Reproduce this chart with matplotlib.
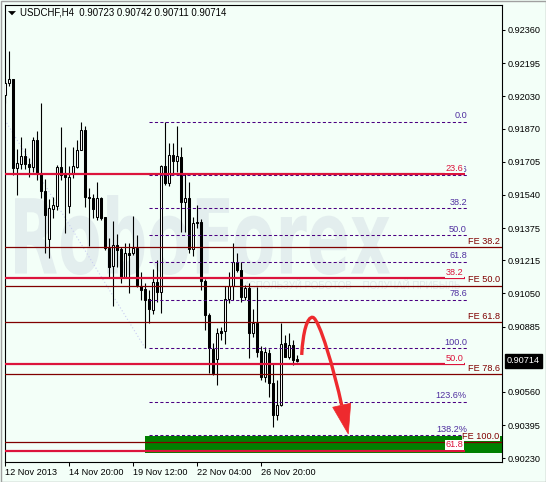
import matplotlib
matplotlib.use('Agg')
import matplotlib.pyplot as plt
import matplotlib.transforms as mtransforms
import numpy as np
from matplotlib.patches import Rectangle, PathPatch, Polygon
from matplotlib.path import Path
from matplotlib.textpath import TextPath
from matplotlib.font_manager import FontProperties

plt.rcParams['font.family'] = ['Liberation Sans', 'DejaVu Sans']

# ---------------- data (USDCHF H4 candles) ----------------
opens = [0.92037, 0.92095, 0.92115, 0.91672, 0.91694, 0.91733, 0.91694, 0.91677, 0.91813, 0.91647,
         0.91559, 0.91319, 0.91468, 0.91486, 0.91677, 0.91647, 0.91486, 0.91647, 0.91680, 0.91763,
         0.91863, 0.91531, 0.91523, 0.91429, 0.91523, 0.91429, 0.91274, 0.91188, 0.91291, 0.91269,
         0.91128, 0.91253, 0.91250, 0.91277, 0.91088, 0.91071, 0.91021, 0.90968, 0.91108, 0.91059,
         0.91684, 0.91601, 0.91738, 0.91710, 0.91730, 0.91506, 0.91523, 0.91269, 0.91407, 0.91405,
         0.91112, 0.90943, 0.90772, 0.90722, 0.90863, 0.90863, 0.91021, 0.91087, 0.91205, 0.91166,
         0.91031, 0.91075, 0.90852, 0.90901, 0.90765, 0.90633, 0.90755, 0.90606, 0.90445, 0.90495,
         0.90802, 0.90735, 0.90794, 0.90723]
highs = [0.92111, 0.92256, 0.92116, 0.91767, 0.91826, 0.91772, 0.91722, 0.91829, 0.91859, 0.91998,
         0.91618, 0.91518, 0.91531, 0.91689, 0.91876, 0.91777, 0.91684, 0.91777, 0.91813, 0.91904,
         0.91883, 0.91573, 0.91544, 0.91606, 0.91528, 0.91430, 0.91324, 0.91412, 0.91346, 0.91281,
         0.91302, 0.91302, 0.91435, 0.91341, 0.91158, 0.91100, 0.91067, 0.91170, 0.91216, 0.91689,
         0.91904, 0.91797, 0.91797, 0.91883, 0.91780, 0.91644, 0.91604, 0.91432, 0.91490, 0.91420,
         0.91122, 0.90953, 0.90802, 0.90877, 0.90885, 0.91087, 0.91158, 0.91299, 0.91250, 0.91206,
         0.91092, 0.91102, 0.90971, 0.91080, 0.90789, 0.90785, 0.90772, 0.90703, 0.90619, 0.90901,
         0.90843, 0.90852, 0.90818, 0.90742]
lows = [0.91997, 0.92082, 0.91639, 0.91538, 0.91667, 0.91667, 0.91627, 0.91655, 0.91614, 0.91523,
        0.91250, 0.91225, 0.91424, 0.91465, 0.91614, 0.91352, 0.91448, 0.91622, 0.91672, 0.91763,
        0.91481, 0.91287, 0.91424, 0.91415, 0.91415, 0.91266, 0.91125, 0.90987, 0.91183, 0.91100,
        0.91127, 0.91051, 0.91241, 0.91083, 0.91017, 0.90777, 0.90901, 0.90948, 0.91009, 0.90951,
        0.91589, 0.91584, 0.91639, 0.91655, 0.91357, 0.91357, 0.91250, 0.91236, 0.91375, 0.91067,
        0.90868, 0.90653, 0.90644, 0.90595, 0.90818, 0.90799, 0.91001, 0.91017, 0.91158, 0.91009,
        0.91017, 0.90727, 0.90835, 0.90735, 0.90619, 0.90611, 0.90536, 0.90387, 0.90421, 0.90490,
        0.90732, 0.90722, 0.90694, 0.90711]
closes = [0.92098, 0.92115, 0.91672, 0.91697, 0.91733, 0.91694, 0.91677, 0.91813, 0.91647, 0.91559,
          0.91440, 0.91473, 0.91488, 0.91677, 0.91639, 0.91627, 0.91630, 0.91684, 0.91763, 0.91863,
          0.91528, 0.91523, 0.91468, 0.91523, 0.91424, 0.91274, 0.91183, 0.91291, 0.91266, 0.91128,
          0.91253, 0.91241, 0.91277, 0.91092, 0.91067, 0.91017, 0.90971, 0.91108, 0.91059, 0.91684,
          0.91598, 0.91738, 0.91710, 0.91733, 0.91506, 0.91523, 0.91269, 0.91399, 0.91399, 0.91112,
          0.90943, 0.90777, 0.90653, 0.90852, 0.90855, 0.91021, 0.91087, 0.91205, 0.91166, 0.91031,
          0.91075, 0.90852, 0.90901, 0.90760, 0.90633, 0.90760, 0.90603, 0.90445, 0.90495, 0.90799,
          0.90735, 0.90794, 0.90719, 0.90714]

x_tick_pos = [0, 16, 32, 48, 64]
x_tick_labels = ['12 Nov 2013', '14 Nov 20:00', '19 Nov 12:00', '22 Nov 04:00', '26 Nov 20:00']
y_tick_vals = [0.92360, 0.92195, 0.92030, 0.91870, 0.91705, 0.91540, 0.91375, 0.91215,
               0.91050, 0.90885, 0.90560, 0.90395, 0.90230]

# Fibonacci retracement (dashed) between swing high and swing low
fib_high = 0.91904
fib_low = 0.90777
fib_ratios = [0.0, 23.6, 38.2, 50.0, 61.8, 78.6, 100.0, 123.6, 138.2]
fib_texts = ['0.0', '23.6', '38.2', '50.0', '61.8', '78.6', '100.0', '123.6%', '138.2%']
fib_x_start, fib_x_end = 36, 115.4

# Long-term retracement (red)
red_levels = [0.91644, 0.91125, 0.90698, 0.90268]
red_texts = ['23.6', '38.2', '50.0', '61.8']
red_x_end = 114.9

# Fibonacci expansion (dark red)
fe_levels = [0.91279, 0.91088, 0.90906, 0.90648, 0.90310]
fe_texts = ['FE 38.2', 'FE 50.0', 'FE 61.8', 'FE 78.6', 'FE 100.0']

# target zone
zone_x_start = 34.9
zone_low, zone_high = 0.90258, 0.90342

# FE trend line anchors
trend_x = [-0.1, 35]
trend_y = [0.91912, 0.90777]

# forecast arrow (bar index, price)
arrow_pts = [(74.1, 0.90744), (74.4, 0.90860), (75.5, 0.90935), (76.85, 0.90931),
             (78.5, 0.90927), (82.3, 0.90660), (84.1, 0.90494)]
arrow_head = [(81.85, 0.90484), (86.35, 0.90504), (85.75, 0.90351)]

title_text = 'USDCHF,H4  0.90723 0.90742 0.90711 0.90714'
last_price = 0.90714
last_price_text = '0.90714'

# ---------------- style ----------------
BG = '#f3fff8'
CRIMSON = '#dc143c'
FE_COL = '#800000'
FIB_COL = '#4b0082'
FIB_TXT = '#5030a0'
GREEN = '#008000'
ARROW = '#ee2a2e'
FS = 6.6
W, H = 546, 482

fig = plt.figure(figsize=(W / 100, H / 100), dpi=100)
fig.patch.set_facecolor(BG)
ax = fig.add_axes([4.5 / W, 1 - 461.5 / H, 497 / W, 457 / H])
ax.set_facecolor(BG)

# watermark
tp = TextPath((0, 0), 'RoboForex', size=100, prop=FontProperties(family='DejaVu Sans', weight='bold'))
ext = tp.get_extents()
x0p, x1p, ytop, ybot = 15, 390, 195, 275
sx = ((x1p - x0p) / W) / ext.width
sy = ((ybot - ytop) / H) / ext.height
tx = x0p / W - ext.x0 * sx
ty = (1 - ybot / H) - ext.y0 * sy
wm = PathPatch(tp, transform=mtransforms.Affine2D().scale(sx, sy).translate(tx, ty) + fig.transFigure,
               facecolor='#e3eeee', edgecolor='none', zorder=0.5)
ax.add_artist(wm)
ax.text(241.7 / W, 1 - 286.0 / H, 'ИСПОЛЬЗУЙ РОБОТОВ – ПОЛУЧАЙ ПРИБЫЛЬ', transform=fig.transFigure,
        fontsize=7.0, color='#e0eaea', va='center', ha='left', zorder=0.6)

# target zone
ax.add_patch(Rectangle((zone_x_start, zone_low), 200, zone_high - zone_low,
                       facecolor=GREEN, edgecolor='none', zorder=1))

# trend line (faint dotted)
ax.plot(trend_x, trend_y, color='#c8ccf0', lw=0.8, ls=(0, (1, 2)), zorder=1.2)

# candles
o = np.array(opens); c = np.array(closes); hi = np.array(highs); lo = np.array(lows)
idx = np.arange(len(o))
up = c >= o
ax.vlines(idx, lo, hi, color='black', lw=0.8, zorder=3)
ax.bar(idx, np.maximum(np.abs(c - o), 0.000004), bottom=np.minimum(o, c), width=0.5,
       color=np.where(up, 'white', 'black'), edgecolor='black', linewidth=0.75, zorder=4)

# FE lines
for lvl, txt in zip(fe_levels, fe_texts):
    ax.axhline(lvl, color=FE_COL, lw=0.9, zorder=5)
    ax.annotate(txt, (123.6, lvl), xytext=(0, 1.0), textcoords='offset points', ha='right', va='bottom',
                fontsize=FS, color=FE_COL, zorder=6,
                bbox=dict(boxstyle='square,pad=0.05', facecolor=BG, edgecolor='none'))

# dashed fib retracement
for r, txt in zip(fib_ratios, fib_texts):
    lvl = fib_high - (fib_high - fib_low) * r / 100.0
    ax.plot([fib_x_start, fib_x_end], [lvl, lvl], color=FIB_COL, lw=0.75, ls=(0, (3, 2.2)), zorder=5)
    ax.annotate(txt, (fib_x_end, lvl), xytext=(0, 1.0), textcoords='offset points', ha='right', va='bottom',
                fontsize=FS, color=FIB_TXT, zorder=6)

# red retracement
for lvl, txt in zip(red_levels, red_texts):
    ax.plot([-1, red_x_end], [lvl, lvl], color=CRIMSON, lw=1.6, zorder=5.5, solid_capstyle='butt')
    ax.annotate(txt, (red_x_end - 0.3, lvl), xytext=(0, 1.0), textcoords='offset points', ha='right',
                va='bottom', fontsize=FS, color=CRIMSON, zorder=6.5,
                bbox=dict(boxstyle='square,pad=0.08', facecolor='white' if txt == '61.8' else BG, edgecolor='none'))

# forecast arrow
codes = [Path.MOVETO] + [Path.CURVE4] * 6
ax.add_patch(PathPatch(Path(arrow_pts, codes), fill=False, edgecolor=ARROW, lw=2.4, zorder=7))
ax.add_patch(Polygon(arrow_head, closed=True, facecolor=ARROW, edgecolor=ARROW, lw=0.5, zorder=7))

# axes
ax.set_xlim(-0.2, 124.05)
ax.set_ylim(0.902142, 0.924868)
ax.yaxis.tick_right()
ax.set_yticks(y_tick_vals)
ax.set_yticklabels(['%.5f' % v for v in y_tick_vals])
ax.set_xticks(x_tick_pos)
ax.set_xticklabels(x_tick_labels)
for lbl in ax.get_xticklabels():
    lbl.set_ha('left')
ax.tick_params(axis='y', direction='out', length=2.5, width=0.75, pad=2.2, labelsize=FS, colors='black')
ax.tick_params(axis='x', direction='out', length=3.2, width=0.75, pad=1.2, labelsize=FS, colors='black')
for s in ax.spines.values():
    s.set_color('black')
    s.set_linewidth(0.8)

# last price marker
ax.text(1.0 + 5.5 / 497, last_price, last_price_text,
        transform=mtransforms.blended_transform_factory(ax.transAxes, ax.transData),
        color='white', fontsize=FS, va='center', ha='left', clip_on=False, zorder=10,
        bbox=dict(boxstyle='square,pad=0.25', facecolor='black', edgecolor='black'))

# title with triangle
fig.text(20 / W, 1 - 12.7 / H, title_text, fontsize=6.9, va='center', ha='left', color='black')
fig.patches.append(Polygon([(8.5 / W, 1 - 11.2 / H), (15.5 / W, 1 - 11.2 / H), (12 / W, 1 - 15 / H)],
                           closed=True, transform=fig.transFigure, facecolor='black', edgecolor='black', lw=0.3))

# outer frame
fig.patches.append(Rectangle((0.5 / W, 0.5 / H), (W - 1) / W, (H - 1) / H, transform=fig.transFigure,
                             fill=False, edgecolor='#a0a0a0', lw=1.0))

fig.savefig('out.png', dpi=100, facecolor=BG)
